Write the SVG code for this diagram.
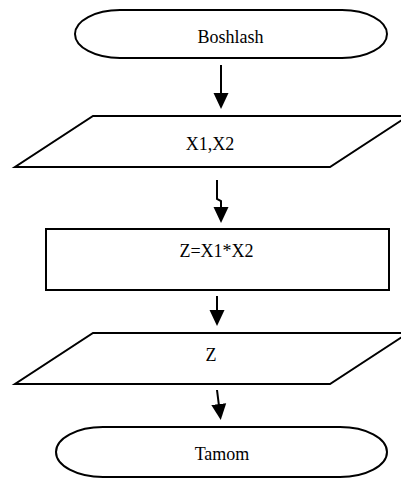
<svg xmlns="http://www.w3.org/2000/svg" width="401" height="479" viewBox="0 0 401 479">
<style>
.shape{fill:#fff;stroke:#000;stroke-width:2}
.conn{fill:none;stroke:#000;stroke-width:2;marker-end:url(#ah)}
text{font-family:"Liberation Serif","Times New Roman",serif;font-size:18px;fill:#000;text-anchor:middle}
</style>
<defs>
<marker id="ah" viewBox="0 0 16 16" refX="10" refY="8" markerWidth="16" markerHeight="16" markerUnits="userSpaceOnUse" orient="auto">
<path d="M0,0.5 L16,8 L0,15.5 Z" fill="#000"/>
</marker>
</defs>
<g id="start">
<path class="shape" d="M120,10 H342 A45,24 0 0 1 342,58 H120 A45,24 0 0 1 120,10 Z"/>
<text x="230.5" y="43">Boshlash</text>
</g>
<g id="input">
<polygon class="shape" points="93,116 408,116 330,167 15,167"/>
<text x="210" y="150">X1,X2</text>
</g>
<g id="process">
<rect class="shape" x="46" y="229" width="343" height="61"/>
<text x="216.5" y="257">Z=X1*X2</text>
</g>
<g id="output">
<polygon class="shape" points="93,333 408,333 330,384 15,384"/>
<text x="211" y="361">Z</text>
</g>
<g id="end">
<path class="shape" d="M103,427 H340 A47,25 0 0 1 340,477 H103 A47,25 0 0 1 103,427 Z"/>
<text x="222" y="460">Tamom</text>
</g>
<g id="connectors">
<path class="conn" d="M221,65 V103"/>
<path class="conn" d="M217,180 V199 L221,201 V217"/>
<path class="conn" d="M217,296 V320"/>
<path class="conn" d="M217,390 L220,414"/>
</g>
</svg>
